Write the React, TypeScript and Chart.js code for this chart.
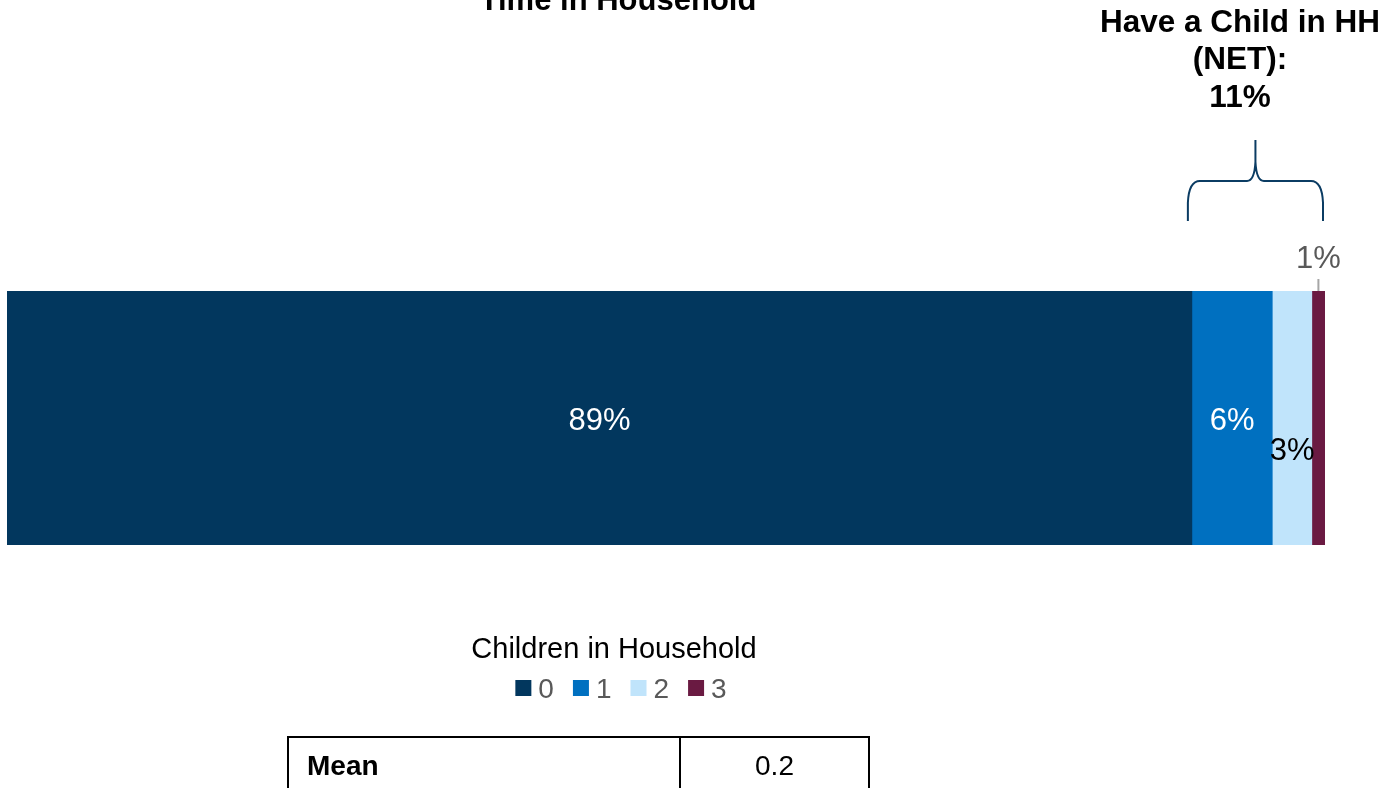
import React, { useEffect, useRef } from "react";
import { Chart, registerables } from "chart.js";

Chart.register(...registerables);

const categories = ["Time in Household"];
const seriesLabels = ["0", "1", "2", "3"];
const seriesValues = [89.9, 6.1, 3.0, 1.0];
const valueLabels = ["89%", "6%", "3%", "1%"];
const seriesColors = ["#02375E", "#0070C0", "#C0E4FB", "#6A1A42"];
const netLabelLines = ["Have a Child in HH", "(NET):", "11%"];
const legendTitle = "Children in Household";
const chartTitle = "Time in Household";
const tableRows = [["Mean", "0.2"]];

const FONT = '"Liberation Sans", Arial, sans-serif';

function centeredText(ctx: CanvasRenderingContext2D, text: string, x: number, cy: number, size: number) {
  ctx.textBaseline = "alphabetic";
  ctx.fillText(text, x, cy + size * 0.358);
}

const overlayPlugin = {
  id: "overlay",
  afterDatasetsDraw(chart: any) {
    const ctx = chart.ctx as CanvasRenderingContext2D;
    const area = chart.chartArea;
    ctx.save();

    // title (cut off at top)
    ctx.font = `bold 31px ${FONT}`;
    ctx.fillStyle = "#000";
    ctx.textAlign = "center";
    ctx.textBaseline = "alphabetic";
    ctx.fillText(chartTitle, 618, 10);

    // data labels
    const els = seriesValues.map((_, i) => chart.getDatasetMeta(i).data[0]);
    const ls = 31;
    els.forEach((el: any, i: number) => {
      const cx = (el.x + el.base) / 2;
      const cy = el.y;
      ctx.font = `${ls}px ${FONT}`;
      ctx.textAlign = "center";
      if (i < 2) {
        ctx.fillStyle = "#FFFFFF";
        centeredText(ctx, valueLabels[i], cx, cy + 1, ls);
      } else if (i === 2) {
        ctx.fillStyle = "#000000";
        centeredText(ctx, valueLabels[i], cx, cy + 31, ls);
      } else {
        ctx.fillStyle = "#595959";
        centeredText(ctx, valueLabels[i], cx, area.top - 34, ls);
        ctx.strokeStyle = "#A6A6A6";
        ctx.lineWidth = 2;
        ctx.beginPath();
        ctx.moveTo(cx, area.top - 12);
        ctx.lineTo(cx, area.top);
        ctx.stroke();
      }
    });

    // bracket
    const x1 = (els[1] as any).base - 4;
    const x2 = (els[3] as any).x - 2;
    const xm = (x1 + x2) / 2;
    const yh = area.top - 110;
    const yEnd = area.top - 70;
    const yTip = area.top - 151;
    const r = 12;
    ctx.strokeStyle = "#0B3C63";
    ctx.lineWidth = 2;
    ctx.beginPath();
    ctx.moveTo(x1, yEnd);
    ctx.lineTo(x1, yh + r * 1.8);
    ctx.quadraticCurveTo(x1 + 1, yh, x1 + r, yh);
    ctx.lineTo(xm - r * 0.7, yh);
    ctx.quadraticCurveTo(xm - 1, yh, xm, yh - r * 1.6);
    ctx.lineTo(xm, yTip);
    ctx.moveTo(xm, yh - r * 1.6);
    ctx.quadraticCurveTo(xm + 1, yh, xm + r * 0.7, yh);
    ctx.lineTo(x2 - r, yh);
    ctx.quadraticCurveTo(x2 - 1, yh, x2, yh + r * 1.8);
    ctx.lineTo(x2, yEnd);
    ctx.stroke();

    // NET annotation
    ctx.font = `bold 31.5px ${FONT}`;
    ctx.fillStyle = "#000";
    ctx.textAlign = "center";
    ctx.textBaseline = "alphabetic";
    const baselines = [32, 69, 107];
    netLabelLines.forEach((t, i) => ctx.fillText(t, 1240, baselines[i]));

    // legend
    ctx.font = `29px ${FONT}`;
    ctx.fillStyle = "#000";
    ctx.textAlign = "center";
    ctx.textBaseline = "alphabetic";
    ctx.fillText(legendTitle, 614, 658);

    ctx.font = `28px ${FONT}`;
    const box = 16;
    const gapBoxText = 7;
    const gapItems = 19;
    const widths = seriesLabels.map((l) => box + gapBoxText + ctx.measureText(l).width);
    const total = widths.reduce((a, b) => a + b, 0) + gapItems * (seriesLabels.length - 1);
    let x = 621 - total / 2;
    const ly = 688;
    seriesLabels.forEach((l, i) => {
      ctx.fillStyle = seriesColors[i];
      ctx.fillRect(x, ly - box / 2, box, box);
      ctx.fillStyle = "#595959";
      ctx.textAlign = "left";
      centeredText(ctx, l, x + box + gapBoxText, ly, 28);
      x += widths[i] + gapItems;
    });

    ctx.restore();
  },
};

export default function App() {
  const ref = useRef<HTMLCanvasElement | null>(null);

  useEffect(() => {
    if (!ref.current) return;
    const chart = new Chart(ref.current, {
      type: "bar",
      data: {
        labels: categories,
        datasets: seriesLabels.map((l, i) => ({
          label: l,
          data: [seriesValues[i]],
          backgroundColor: seriesColors[i],
          borderWidth: 0,
          barPercentage: 1,
          categoryPercentage: 1,
        })),
      },
      options: {
        indexAxis: "y",
        responsive: false,
        animation: false,
        layout: { padding: { left: 7, right: 61, top: 291, bottom: 243 } },
        scales: {
          x: { stacked: true, min: 0, max: 100, display: false },
          y: { stacked: true, display: false },
        },
        plugins: {
          legend: { display: false },
          title: { display: false },
          tooltip: { enabled: false },
        },
      },
      plugins: [overlayPlugin],
    });
    return () => chart.destroy();
  }, []);

  return (
    <div style={{ position: "absolute", left: 0, top: 0, width: 1386, height: 788, overflow: "hidden", background: "#fff" }}>
      <canvas ref={ref} width={1386} height={788} style={{ position: "absolute", left: 0, top: 0 }} />
      <table
        style={{
          position: "absolute",
          left: 287,
          top: 736,
          width: 583,
          borderCollapse: "collapse",
          fontFamily: FONT,
          fontSize: 28,
        }}
      >
        <tbody>
          {tableRows.map((row, ri) => (
            <tr key={ri} style={{ height: 58 }}>
              <td style={{ border: "2px solid #000", width: 372, padding: "0 0 0 18px", fontWeight: "bold", textAlign: "left" }}>{row[0]}</td>
              <td style={{ border: "2px solid #000", textAlign: "center", padding: 0 }}>{row[1]}</td>
            </tr>
          ))}
        </tbody>
      </table>
    </div>
  );
}
